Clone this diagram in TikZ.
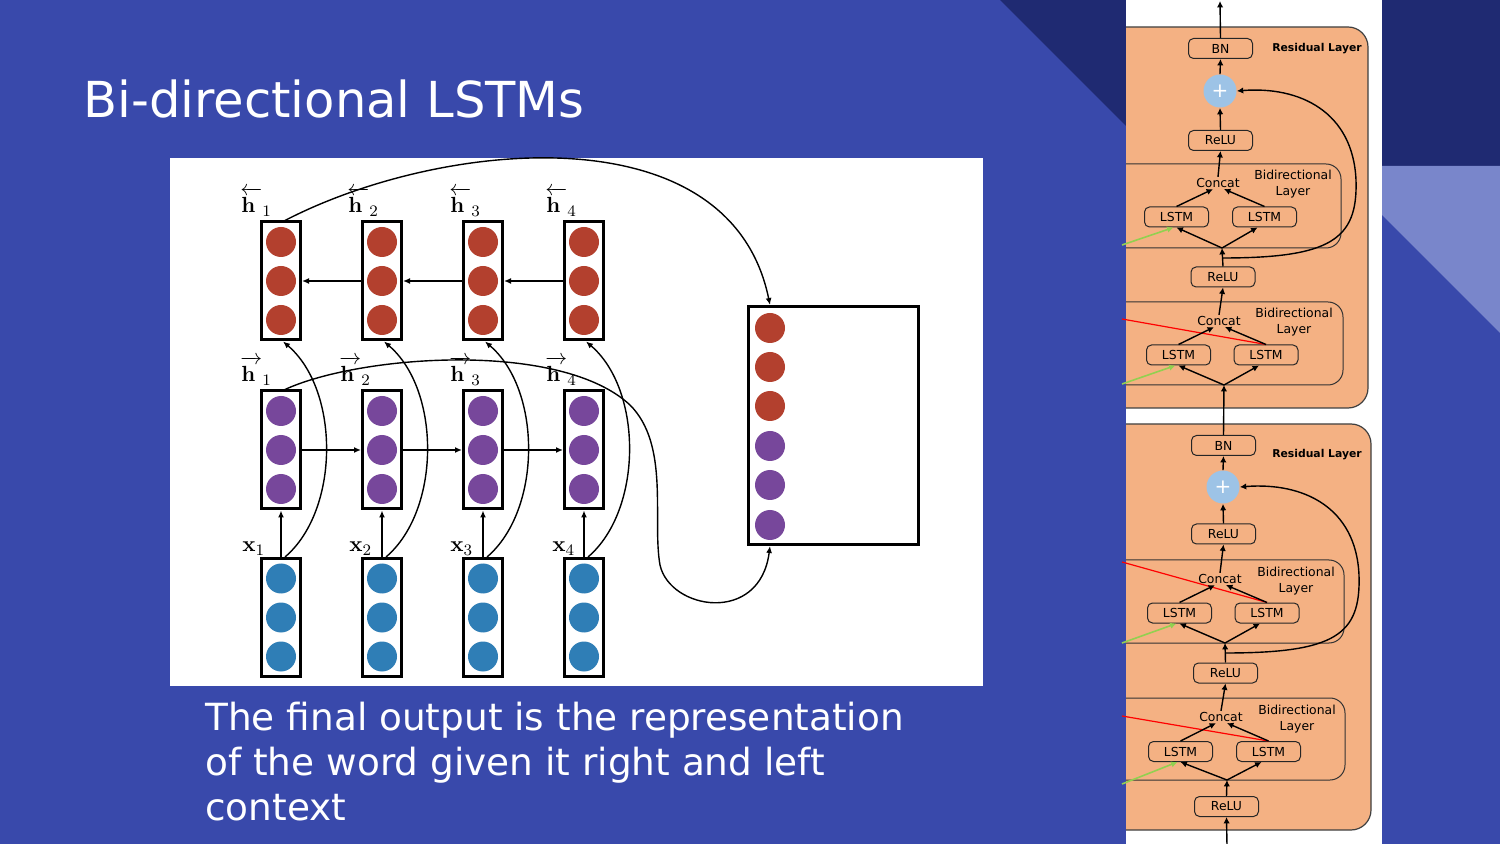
\documentclass[tikz,border=0pt]{standalone}
\usepackage[no-math]{fontspec}
\setmainfont{DejaVu Sans}
\usetikzlibrary{arrows.meta,calc,shapes.geometric}
\definecolor{slidebg}{HTML}{3949AB}
\definecolor{slidedark}{HTML}{1F2A72}
\definecolor{slidelight}{HTML}{7986CB}
\definecolor{nred}{HTML}{B3402E}
\definecolor{npurple}{HTML}{77479B}
\definecolor{nblue}{HTML}{2F7EB6}
\definecolor{panelorange}{HTML}{F4B183}
\definecolor{plusblue}{HTML}{9DC3E6}
\definecolor{greenarrow}{HTML}{92D050}
\newcommand\panelfont{\fontsize{6.2}{8}\selectfont}
\newcommand\lhvec[1]{\overleftarrow{\mathbf{h}\rule{0pt}{0.9em}\mkern5mu}_{#1}}
\newcommand\rhvec[1]{\overrightarrow{\mathbf{h}\rule{0pt}{0.9em}\mkern5mu}_{#1}}
\begin{document}
\begin{tikzpicture}[x=0.5pt,y=-0.5pt,
  vecbox/.style={draw, line width=1.5pt, minimum width=19.5pt, minimum height=59pt, inner sep=0pt, fill=white},
  unit/.style={circle, inner sep=0pt, minimum size=15pt},
  hlab/.style={anchor=base west, inner sep=0pt, font=\fontsize{11}{13}\selectfont},
  xlab/.style={anchor=base west, inner sep=0pt, font=\fontsize{11}{13}\selectfont},
  harr/.style={-{Latex[length=3.5pt,width=3pt]}, line width=1pt},
  varr/.style={-{Latex[length=3.5pt,width=3pt]}, line width=1.2pt},
  carr/.style={-{Latex[length=3.5pt,width=3pt]}, line width=0.7pt},
  bodytext/.style={anchor=base west, inner sep=0pt, text=white, font=\fontsize{18.7}{22.5}\selectfont},
  pbox/.style={draw=black!85, line width=0.5pt, rounded corners=2.5pt, minimum width=32pt, minimum height=10pt, inner sep=0pt, fill=panelorange, font=\panelfont},
  ptext/.style={inner sep=0.5pt, font=\panelfont},
  plusnode/.style={circle, fill=plusblue, minimum size=16.5pt, inner sep=0pt, text=white, font=\fontsize{10}{10}\selectfont},
  parr/.style={-{Latex[length=3.2pt,width=3.2pt]}, line width=0.7pt},
  garr/.style={-{Latex[length=3.2pt,width=3.2pt]}, line width=0.8pt, draw=greenarrow},
  redl/.style={line width=0.6pt, draw=red},
  outerbox/.style={draw=black!75, line width=0.6pt, fill=panelorange, rounded corners=10pt},
  innerbox/.style={draw=black!80, line width=0.5pt, rounded corners=7.5pt}
]
\useasboundingbox (0,0) rectangle (1500,844);
% slide background
\fill[slidebg] (0,0) rectangle (1500,844);
\fill[slidedark] (1000,0) -- (1500,0) -- (1500,166) -- (1166,166) -- cycle;
\fill[slidelight] (1382,166) -- (1500,166) -- (1500,333) -- (1382,215) -- cycle;

\node[anchor=base west, inner sep=0pt, text=white, font=\fontsize{24.8}{30}\selectfont] (title) at (83,118) {Bi-directional LSTMs};

% ---------- left diagram ----------
\fill[white] (170,158) rectangle (983,686);
\foreach \i/\cx in {1/281,2/382,3/483,4/584} {
  \node[vecbox] (r\i) at (\cx,281) {};
  \node[vecbox] (p\i) at (\cx,450) {};
  \node[vecbox] (b\i) at (\cx,617.5) {};
  \foreach \k/\yy in {a/242,b/281,c/320} { \node[unit, fill=nred] (r\i\k) at (\cx,\yy) {}; }
  \foreach \k/\yy in {a/411,b/450,c/489} { \node[unit, fill=npurple] (p\i\k) at (\cx,\yy) {}; }
  \foreach \k/\yy in {a/578.5,b/617.5,c/656.5} { \node[unit, fill=nblue] (b\i\k) at (\cx,\yy) {}; }
}
% labels
\node[hlab] (lr1) at (240,213) {$\lhvec{1}$};
\node[hlab] (lr2) at (347,213) {$\lhvec{2}$};
\node[hlab] (lr3) at (449,213) {$\lhvec{3}$};
\node[hlab] (lr4) at (545,213) {$\lhvec{4}$};
\node[hlab] (lp1) at (240,382) {$\rhvec{1}$};
\node[hlab] (lp2) at (339,382) {$\rhvec{2}$};
\node[hlab] (lp3) at (449,382) {$\rhvec{3}$};
\node[hlab] (lp4) at (545,382) {$\rhvec{4}$};
\node[xlab] (lx1) at (242,552) {$\mathbf{x}_1$};
\node[xlab] (lx2) at (349,552) {$\mathbf{x}_2$};
\node[xlab] (lx3) at (450,552) {$\mathbf{x}_3$};
\node[xlab] (lx4) at (552,552) {$\mathbf{x}_4$};
% output box
\node[draw, line width=1.5pt, minimum width=85pt, minimum height=119pt, inner sep=0pt, fill=white] (out) at (833.5,425.5) {};
\foreach \k/\yy in {1/328,2/367,3/406} { \node[unit, fill=nred] (o\k) at (770,\yy) {}; }
\foreach \k/\yy in {4/446,5/485,6/525} { \node[unit, fill=npurple] (o\k) at (770,\yy) {}; }
% arrows
\draw[harr] (r2.west) -- (r1.east);
\draw[harr] (r3.west) -- (r2.east);
\draw[harr] (r4.west) -- (r3.east);
\draw[harr] (p1.east) -- (p2.west);
\draw[harr] (p2.east) -- (p3.west);
\draw[harr] (p3.east) -- (p4.west);
\foreach \i/\cx in {1/281,2/382,3/483,4/584} {
  \draw[varr] (b\i.north) -- (p\i.south);
  \draw[carr] ($(b\i.north)+(4,0)$) .. controls (\cx+59,510) and (\cx+59,390) .. ($(r\i.south)+(2,0)$);
}
\draw[carr] ($(r1.north)+(4,0)$) .. controls (440,140) and (730,110) .. (o1 |- out.north);
\draw[carr] ($(p1.north)+(4,0)$) .. controls (360,355) and (560,340) .. (630,405)
   .. controls (670,445) and (652,520) .. (660,565)
   .. controls (670,610) and (760,625) .. (o6 |- out.south);

\node[bodytext] (t1) at (205,730) {The final output is the representation};
\node[bodytext] (t2) at (205,775) {of the word given it right and left};
\node[bodytext] (t3) at (205,820) {context};

% ---------- right panel ----------
\fill[white] (1126,0) rectangle (1382,844);
\begin{scope}
\clip (1126,0) rectangle (1382,844);
\draw[outerbox] (1090,27) rectangle (1368,408);
\draw[outerbox] (1090,424) rectangle (1371,830);
\draw[innerbox] (1090,164) rectangle (1341,248);
\draw[innerbox] (1090,302) rectangle (1343,385);
\draw[innerbox] (1090,560) rectangle (1344,643);
\draw[innerbox] (1090,698) rectangle (1345,780);
\coordinate (gA) at (1122,245);
\coordinate (gB) at (1122,384);
\coordinate (gC) at (1122,643);
\coordinate (gD) at (1122,784);
\coordinate (rdB) at (1122,319);
\coordinate (rdC) at (1122,562);
\coordinate (rdD) at (1122,716);
\end{scope}

% layer A (top residual)
\node[pbox] (bnA) at (1220.5,48.5) {BN};
\node[plusnode] (plusA) at (1220,91) {+};
\node[pbox] (reluA) at (1220.5,140.5) {ReLU};
\node[ptext] (concatA) at (1218,183) {Concat};
\node[pbox] (lstmA1) at (1176.5,217) {LSTM};
\node[pbox] (lstmA2) at (1264.5,217) {LSTM};
\node[ptext, align=center] (bidA) at (1293,184) {Bidirectional\\Layer};
\node[ptext, font=\fontsize{5.4}{7}\selectfont\bfseries] (resA) at (1317,49) {Residual Layer};
\coordinate (jA) at (1222,248);
\coordinate (sA) at (1222,258);
\coordinate (topA) at (1220,1);
% layer B
\node[pbox] (reluB) at (1223,277) {ReLU};
\node[ptext] (concatB) at (1219,321) {Concat};
\node[pbox] (lstmB1) at (1178.5,355) {LSTM};
\node[pbox] (lstmB2) at (1266,355) {LSTM};
\node[ptext, align=center] (bidB) at (1294,322) {Bidirectional\\Layer};
\coordinate (jB) at (1224,385);
% layer C (second residual)
\node[pbox] (bnC) at (1223.5,445.5) {BN};
\node[plusnode] (plusC) at (1223,487) {+};
\node[pbox] (reluC) at (1223.5,534) {ReLU};
\node[ptext] (concatC) at (1220,579) {Concat};
\node[pbox] (lstmC1) at (1179.5,613) {LSTM};
\node[pbox] (lstmC2) at (1267,613) {LSTM};
\node[ptext, align=center] (bidC) at (1296,581) {Bidirectional\\Layer};
\node[ptext, font=\fontsize{5.4}{7}\selectfont\bfseries] (resC) at (1317,455) {Residual Layer};
\coordinate (jC) at (1225,643);
\coordinate (sC) at (1225,653);
% layer D
\node[pbox] (reluD) at (1225.5,673) {ReLU};
\node[ptext] (concatD) at (1221,717) {Concat};
\node[pbox] (lstmD1) at (1180.5,751.5) {LSTM};
\node[pbox] (lstmD2) at (1268.5,751.5) {LSTM};
\node[ptext, align=center] (bidD) at (1297,719) {Bidirectional\\Layer};
\coordinate (jD) at (1227,780);
\node[pbox] (reluE) at (1226.5,806.5) {ReLU};
\coordinate (botE) at (1227,846);

% red and green side connections
\draw[redl] (rdB) -- (lstmB2.north);
\draw[redl] (rdC) -- (lstmC2.north);
\draw[redl] (rdD) -- (lstmD2.north);
\draw[garr] (gA) -- ($(lstmA1.south)+(-3,0)$);
\draw[garr] (gB) -- ($(lstmB1.south)+(-3,0)$);
\draw[garr] (gC) -- ($(lstmC1.south)+(-3,0)$);
\draw[garr] (gD) -- ($(lstmD1.south)+(-3,0)$);

% panel arrows
\draw[parr] (bnA.north) -- (topA);
\draw[parr] (plusA.north) -- (bnA.south);
\draw[parr] (reluA.north) -- (plusA.south);
\draw[parr] (concatA.north) -- (reluA.south);
\draw[parr] (lstmA1.north) -- ($(concatA.south)+(-5,0)$);
\draw[parr] (lstmA2.north) -- ($(concatA.south)+(6,0)$);
\draw[parr] (jA) -- (lstmA1.south);
\draw[parr] (jA) -- ($(lstmA2.south)+(-7,0)$);
\draw[parr] (reluB.north) -- (jA);
\draw[parr] (sA) .. controls (1330,258) and (1358,240) .. (1356,180) .. controls (1353,112) and (1300,86) .. (plusA.east);

\draw[parr] (concatB.north) -- (reluB.south);
\draw[parr] (lstmB1.north) -- ($(concatB.south)+(-5,0)$);
\draw[parr] (lstmB2.north) -- ($(concatB.south)+(6,0)$);
\draw[parr] (jB) -- (lstmB1.south);
\draw[parr] (jB) -- ($(lstmB2.south)+(-7,0)$);
\draw[parr] (bnC.north) -- (jB);

\draw[parr] (plusC.north) -- (bnC.south);
\draw[parr] (reluC.north) -- (plusC.south);
\draw[parr] (concatC.north) -- (reluC.south);
\draw[parr] (lstmC1.north) -- ($(concatC.south)+(-5,0)$);
\draw[parr] (lstmC2.north) -- ($(concatC.south)+(6,0)$);
\draw[parr] (jC) -- (lstmC1.south);
\draw[parr] (jC) -- ($(lstmC2.south)+(-7,0)$);
\draw[parr] (reluD.north) -- (jC);
\draw[parr] (sC) .. controls (1335,653) and (1361,635) .. (1359,575) .. controls (1356,507) and (1303,482) .. (plusC.east);

\draw[parr] (concatD.north) -- (reluD.south);
\draw[parr] (lstmD1.north) -- ($(concatD.south)+(-5,0)$);
\draw[parr] (lstmD2.north) -- ($(concatD.south)+(6,0)$);
\draw[parr] (jD) -- (lstmD1.south);
\draw[parr] (jD) -- ($(lstmD2.south)+(-7,0)$);
\draw[parr] (reluE.north) -- (jD);
\draw[parr] (botE) -- (reluE.south);
\end{tikzpicture}
\end{document}
